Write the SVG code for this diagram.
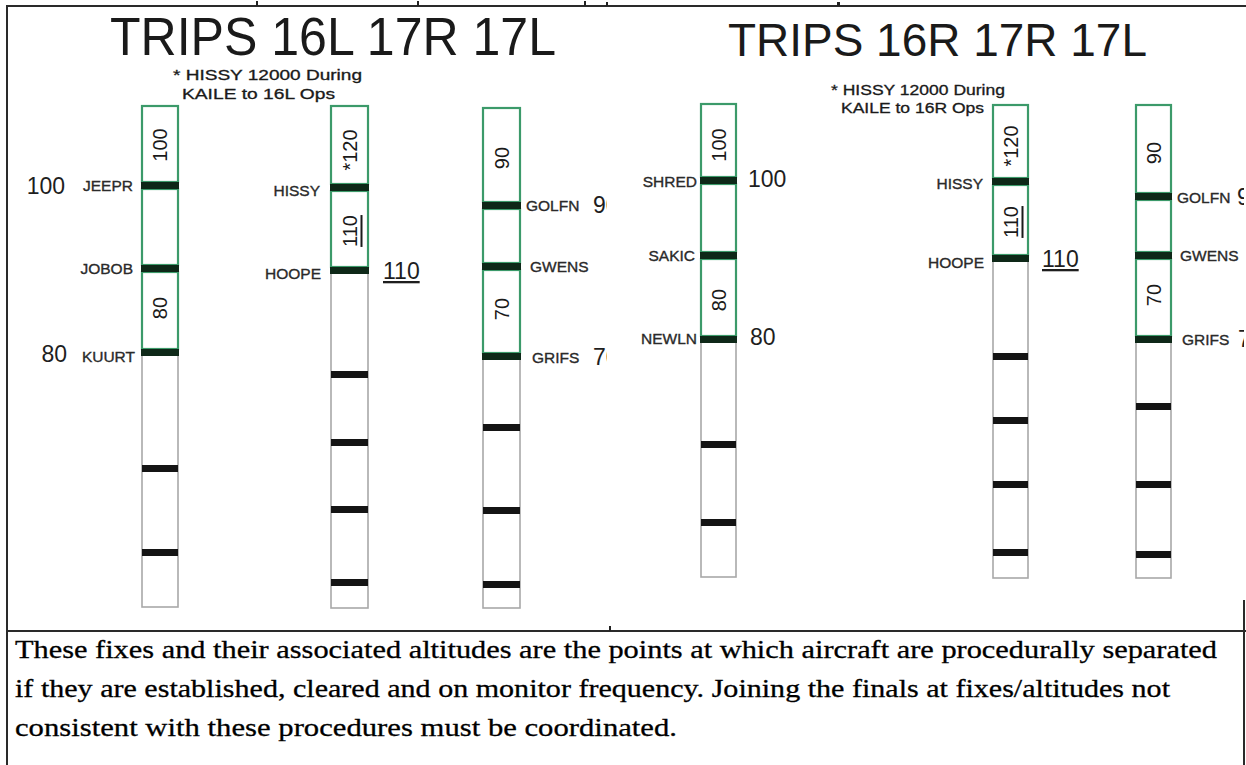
<svg xmlns="http://www.w3.org/2000/svg" width="1246" height="765" viewBox="0 0 1246 765">
<defs>
<style>
.frame{stroke:#2a2a2a;stroke-width:2;fill:none}
.col{fill:#fff;stroke:#a8a8a8;stroke-width:1.6}
.gbox{fill:none;stroke:#3c9a6a;stroke-width:2.2}
.gbar{fill:#0e2818}
.bar{fill:#141414}
.title{font-family:"Liberation Sans",Arial,sans-serif;fill:#1a1a1a}
.note{font-family:"Liberation Sans",Arial,sans-serif;font-size:14px;fill:#1a1a1a;stroke:#1a1a1a;stroke-width:0.3}
.fix{font-family:"Liberation Sans",Arial,sans-serif;font-size:15.5px;fill:#2a2a2a;stroke:#2a2a2a;stroke-width:0.35}
.alt{font-family:"Liberation Sans",Arial,sans-serif;font-size:23px;fill:#1e1e1e}
.inbox{font-family:"Liberation Sans",Arial,sans-serif;font-size:20px;fill:#1a1a1a;text-anchor:middle;dominant-baseline:central}
.body{font-family:"Liberation Serif","Times New Roman",serif;font-size:26px;fill:#000;stroke:#000;stroke-width:0.3}
.tick{fill:#222}
</style>
<clipPath id="clipL"><rect x="0" y="0" width="607" height="631"/></clipPath>
<clipPath id="clipR"><rect x="0" y="0" width="1244" height="631"/></clipPath>
</defs>

<g id="frame">
<line class="frame" x1="7" y1="6" x2="1246" y2="6"/>
<line class="frame" x1="7" y1="5" x2="7" y2="765"/>
<line class="frame" x1="7" y1="631" x2="1246" y2="631"/>
<line class="frame" x1="1244" y1="600" x2="1244" y2="765"/>
<rect class="tick" x="256" y="1" width="2" height="5"/>
<rect class="tick" x="417" y="1" width="2" height="5"/>
<rect class="tick" x="584" y="1" width="2" height="5"/>
<rect class="tick" x="606" y="2" width="2" height="4"/>
<rect class="tick" x="837" y="2" width="3" height="4"/>
<rect class="tick" x="609" y="626" width="2" height="5"/>
</g>

<g id="titles">
<text class="title" x="110" y="55" font-size="54" textLength="446" lengthAdjust="spacingAndGlyphs">TRIPS 16L 17R 17L</text>
<text class="title" x="728" y="56" font-size="47" textLength="419" lengthAdjust="spacingAndGlyphs">TRIPS 16R 17R 17L</text>
</g>

<g id="note-16L">
<text class="note" x="173" y="80" textLength="189" lengthAdjust="spacingAndGlyphs">* HISSY 12000 During</text>
<text class="note" x="182" y="99" textLength="153" lengthAdjust="spacingAndGlyphs">KAILE to 16L Ops</text>
</g>
<g id="note-16R">
<text class="note" x="831" y="95" textLength="174" lengthAdjust="spacingAndGlyphs">* HISSY 12000 During</text>
<text class="note" x="841" y="113" textLength="143" lengthAdjust="spacingAndGlyphs">KAILE to 16R Ops</text>
</g>

<!-- Column 1: 16L -->
<g id="col-16L">
<rect class="col" x="142" y="106" width="36" height="501"/>
<rect class="gbox" x="142" y="106" width="36" height="76"/>
<rect class="gbox" x="142" y="189" width="36" height="76"/>
<rect class="gbox" x="142" y="272" width="36" height="77"/>
<rect class="gbar" x="141" y="182" width="38" height="7"/>
<rect class="gbar" x="141" y="265" width="38" height="7"/>
<rect class="gbar" x="141" y="349" width="38" height="7"/>
<rect class="bar" x="142" y="465" width="36" height="7"/>
<rect class="bar" x="142" y="549" width="36" height="7"/>
<text class="inbox" transform="translate(160,145) rotate(-90)">100</text>
<text class="inbox" transform="translate(160,308) rotate(-90)">80</text>
<text class="alt" x="65" y="194" text-anchor="end">100</text>
<text class="fix" x="133" y="191" text-anchor="end">JEEPR</text>
<text class="fix" x="133" y="274" text-anchor="end">JOBOB</text>
<text class="alt" x="67" y="362" text-anchor="end">80</text>
<text class="fix" x="135" y="362" text-anchor="end">KUURT</text>
</g>

<!-- Column 2: 17R (left set) -->
<g id="col-17R-a">
<rect class="col" x="331" y="106" width="37" height="502"/>
<rect class="gbox" x="331" y="106" width="37" height="78"/>
<rect class="gbox" x="331" y="191" width="37" height="76"/>
<rect class="gbar" x="330" y="184" width="39" height="7"/>
<rect class="gbar" x="330" y="267" width="39" height="7"/>
<rect class="bar" x="331" y="371" width="37" height="7"/>
<rect class="bar" x="331" y="439" width="37" height="7"/>
<rect class="bar" x="331" y="506" width="37" height="7"/>
<rect class="bar" x="331" y="579" width="37" height="7"/>
<text class="inbox" transform="translate(349.5,150) rotate(-90)">*120</text>
<text class="inbox" transform="translate(349.5,231) rotate(-90)" text-decoration="underline">110</text>
<text class="fix" x="320" y="196" text-anchor="end">HISSY</text>
<text class="fix" x="321" y="279" text-anchor="end">HOOPE</text>
<text class="alt" x="383" y="279" text-decoration="underline">110</text>
</g>

<!-- Column 3: 17L (left set) -->
<g id="col-17L-a">
<rect class="col" x="483" y="108" width="37" height="500"/>
<rect class="gbox" x="483" y="108" width="37" height="94"/>
<rect class="gbox" x="483" y="209" width="37" height="54"/>
<rect class="gbox" x="483" y="270" width="37" height="83"/>
<rect class="gbar" x="482" y="202" width="39" height="7"/>
<rect class="gbar" x="482" y="263" width="39" height="7"/>
<rect class="gbar" x="482" y="353" width="39" height="7"/>
<rect class="bar" x="483" y="424" width="37" height="7"/>
<rect class="bar" x="483" y="507" width="37" height="7"/>
<rect class="bar" x="483" y="581" width="37" height="7"/>
<text class="inbox" transform="translate(501.5,158) rotate(-90)">90</text>
<text class="inbox" transform="translate(501.5,309) rotate(-90)">70</text>
<text class="fix" x="526" y="211">GOLFN</text>
<text class="fix" x="530" y="272">GWENS</text>
<text class="fix" x="532" y="363">GRIFS</text>
<g clip-path="url(#clipL)">
<text class="alt" x="593" y="213">90</text>
<text class="alt" x="593" y="365">70</text>
</g>
</g>

<!-- Column 4: 16R -->
<g id="col-16R">
<rect class="col" x="701" y="104" width="35" height="473"/>
<rect class="gbox" x="701" y="104" width="35" height="73"/>
<rect class="gbox" x="701" y="184" width="35" height="68"/>
<rect class="gbox" x="701" y="259" width="35" height="77"/>
<rect class="gbar" x="700" y="177" width="37" height="7"/>
<rect class="gbar" x="700" y="252" width="37" height="7"/>
<rect class="gbar" x="700" y="336" width="37" height="7"/>
<rect class="bar" x="701" y="441" width="35" height="7"/>
<rect class="bar" x="701" y="519" width="35" height="7"/>
<text class="inbox" transform="translate(718.5,145) rotate(-90)">100</text>
<text class="inbox" transform="translate(718.5,300) rotate(-90)">80</text>
<text class="fix" x="697" y="187" text-anchor="end">SHRED</text>
<text class="fix" x="695" y="261" text-anchor="end">SAKIC</text>
<text class="fix" x="697" y="344" text-anchor="end">NEWLN</text>
<text class="alt" x="748" y="187">100</text>
<text class="alt" x="750" y="345">80</text>
</g>

<!-- Column 5: 17R (right set) -->
<g id="col-17R-b">
<rect class="col" x="993" y="105" width="35" height="473"/>
<rect class="gbox" x="993" y="105" width="35" height="73"/>
<rect class="gbox" x="993" y="185" width="35" height="70"/>
<rect class="gbar" x="992" y="178" width="37" height="7"/>
<rect class="gbar" x="992" y="255" width="37" height="7"/>
<rect class="bar" x="993" y="353" width="35" height="7"/>
<rect class="bar" x="993" y="417" width="35" height="7"/>
<rect class="bar" x="993" y="481" width="35" height="7"/>
<rect class="bar" x="993" y="549" width="35" height="7"/>
<text class="inbox" transform="translate(1010.5,146) rotate(-90)">*120</text>
<text class="inbox" transform="translate(1010.5,222) rotate(-90)" text-decoration="underline">110</text>
<text class="fix" x="983" y="189" text-anchor="end">HISSY</text>
<text class="fix" x="984" y="268" text-anchor="end">HOOPE</text>
<text class="alt" x="1042" y="267" text-decoration="underline">110</text>
</g>

<!-- Column 6: 17L (right set) -->
<g id="col-17L-b">
<rect class="col" x="1136" y="105" width="35" height="473"/>
<rect class="gbox" x="1136" y="105" width="35" height="88"/>
<rect class="gbox" x="1136" y="200" width="35" height="52"/>
<rect class="gbox" x="1136" y="259" width="35" height="77"/>
<rect class="gbar" x="1135" y="193" width="37" height="7"/>
<rect class="gbar" x="1135" y="252" width="37" height="7"/>
<rect class="gbar" x="1135" y="336" width="37" height="7"/>
<rect class="bar" x="1136" y="403" width="35" height="7"/>
<rect class="bar" x="1136" y="481" width="35" height="7"/>
<rect class="bar" x="1136" y="551" width="35" height="7"/>
<text class="inbox" transform="translate(1153.5,153) rotate(-90)">90</text>
<text class="inbox" transform="translate(1153.5,295) rotate(-90)">70</text>
<text class="fix" x="1177" y="203">GOLFN</text>
<text class="fix" x="1180" y="261">GWENS</text>
<text class="fix" x="1182" y="345">GRIFS</text>
<g clip-path="url(#clipR)">
<text class="alt" x="1237" y="205">90</text>
<text class="alt" x="1238" y="347">70</text>
</g>
</g>

<g id="caption">
<text class="body" x="15" y="658" textLength="1202" lengthAdjust="spacingAndGlyphs">These fixes and their associated altitudes are the points at which aircraft are procedurally separated</text>
<text class="body" x="15" y="697" textLength="1155" lengthAdjust="spacingAndGlyphs">if they are established, cleared and on monitor frequency. Joining the finals at fixes/altitudes not</text>
<text class="body" x="15" y="736" textLength="662" lengthAdjust="spacingAndGlyphs">consistent with these procedures must be coordinated.</text>
</g>
</svg>
